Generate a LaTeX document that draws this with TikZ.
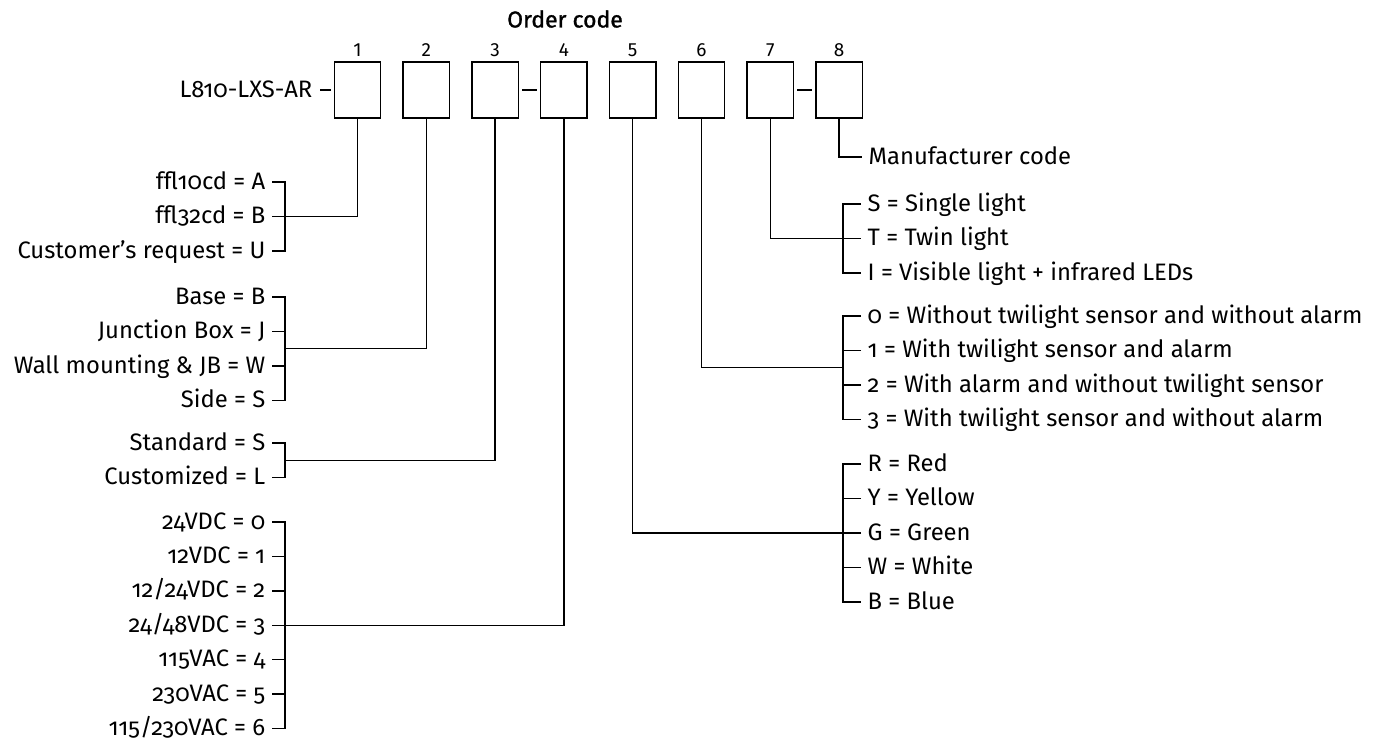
\documentclass[tikz,border=0pt]{standalone}
\usepackage{fontspec}
\setmainfont{Fira Sans}[Numbers=OldStyle]
\newfontfamily\digitfont{Fira Sans}[Numbers=Lining]
\newfontfamily\headfont{Fira Sans}[FakeBold=1.2]
\usetikzlibrary{positioning,calc}

\begin{document}
\begin{tikzpicture}[x=1pt,y=-1pt,font=\fontsize{23.8}{28}\selectfont,line width=1.4pt,
              slot/.style={draw,minimum width=46.5pt,minimum height=56pt,inner sep=0},
              lopt/.style={anchor=base east,inner sep=0,yshift=-7pt},
              ropt/.style={anchor=base west,inner sep=0,yshift=-7pt},
              idx/.style={inner sep=0,font=\digitfont\fontsize{19}{22}\selectfont}]
              \useasboundingbox (0,0) rectangle (1384,742);
              % code slots
              \node[font=\headfont\fontsize{23}{27}\selectfont] (title) at (565,19) {Order code};
              \foreach \i in {1,...,8}
                \node[slot] (b\i) at ({357.5+68.8*(\i-1)},90) {};
              \foreach \i in {1,...,8}
                \node[idx,above=4pt of b\i] (n\i) {\i};
              \node[lopt] (pre) at (313,90) {L810-LXS-AR};
              \draw ([shift={(7pt,7pt)}]pre.base east) -- ([xshift=-3pt]b1.west);
              \draw ([xshift=3pt]b3.east) -- ([xshift=-3pt]b4.west);
              \draw ([xshift=3pt]b7.east) -- ([xshift=-3pt]b8.west);
              % left options
              \foreach \t [count=\i] in {ffl10cd = A,ffl32cd = B,Customer’s request = U}
                \node[lopt] (g1-\i) at (266,{182+34.5*(\i-1)}) {\t};
              \foreach \t [count=\i] in {Base = B,Junction Box = J,Wall mounting \& JB = W,Side = S}
                \node[lopt] (g2-\i) at (266,{297+34.5*(\i-1)}) {\t};
              \foreach \t [count=\i] in {Standard = S,Customized = L}
                \node[lopt] (g3-\i) at (266,{443+34.5*(\i-1)}) {\t};
              \foreach \t [count=\i] in {24VDC = 0,12VDC = 1,12/24VDC = 2,24/48VDC = 3,115VAC = 4,230VAC = 5,115/230VAC = 6}
                \node[lopt] (g4-\i) at (266,{522+34.4*(\i-1)}) {\t};
              \draw ([shift={(6pt,7pt)}]g1-1.base east) -- ++(13,0) |- ([shift={(6pt,7pt)}]g1-3.base east);
              \draw ([shift={(6pt,7pt)}]g2-1.base east) -- ++(13,0) |- ([shift={(6pt,7pt)}]g2-4.base east);
              \draw ([shift={(6pt,7pt)}]g3-1.base east) -- ++(13,0) |- ([shift={(6pt,7pt)}]g3-2.base east);
              \draw ([shift={(6pt,7pt)}]g4-1.base east) -- ++(13,0) |- ([shift={(6pt,7pt)}]g4-7.base east);
              \foreach \i in {2,3}
                \draw ([shift={(6pt,7pt)}]g2-\i.base east) -- ++(13,0);
              \foreach \i in {2,...,6}
                \draw ([shift={(6pt,7pt)}]g4-\i.base east) -- ++(13,0);
              \draw (b1.south) |- ([shift={(6pt,7pt)}]g1-2.base east);
              \draw (b2.south) |- ($([shift={(19pt,7pt)}]g2-2.base east)!0.5!([shift={(19pt,7pt)}]g2-3.base east)$);
              \draw (b3.south) |- ($([shift={(19pt,7pt)}]g3-1.base east)!0.5!([shift={(19pt,7pt)}]g3-2.base east)$);
              \draw (b4.south) |- ([shift={(6pt,7pt)}]g4-4.base east);
              % right options
              \node[ropt] (mc) at (868,157) {Manufacturer code};
              \foreach \t [count=\i] in {S = Single light,T = Twin light,I = Visible light + infrared LEDs}
                \node[ropt] (r7-\i) at (867,{204+34.5*(\i-1)}) {\t};
              \foreach \t [count=\i] in {0 = Without twilight sensor and without alarm,1 = With twilight sensor and alarm,2 = With alarm and without twilight sensor,3 = With twilight sensor and without alarm}
                \node[ropt] (r6-\i) at (867,{316+34.5*(\i-1)}) {\t};
              \foreach \t [count=\i] in {R = Red,Y = Yellow,G = Green,W = White,B = Blue}
                \node[ropt] (r5-\i) at (867,{464+34.5*(\i-1)}) {\t};
              \draw ([shift={(-6pt,7pt)}]r7-1.base west) -- ++(-18,0) |- ([shift={(-6pt,7pt)}]r7-3.base west);
              \draw ([shift={(-6pt,7pt)}]r6-1.base west) -- ++(-18,0) |- ([shift={(-6pt,7pt)}]r6-4.base west);
              \draw ([shift={(-6pt,7pt)}]r5-1.base west) -- ++(-18,0) |- ([shift={(-6pt,7pt)}]r5-5.base west);
              \foreach \i in {2,3}
                \draw ([shift={(-6pt,7pt)}]r6-\i.base west) -- ++(-18,0);
              \foreach \i in {2,3,4}
                \draw ([shift={(-6pt,7pt)}]r5-\i.base west) -- ++(-18,0);
              \draw (b8.south) |- ([shift={(-6pt,7pt)}]mc.base west);
              \draw (b7.south) |- ([shift={(-6pt,7pt)}]r7-2.base west);
              \draw (b6.south) |- ($([shift={(-24pt,7pt)}]r6-2.base west)!0.5!([shift={(-24pt,7pt)}]r6-3.base west)$);
              \draw (b5.south) |- ([shift={(-6pt,7pt)}]r5-3.base west);
            \end{tikzpicture}
\end{document}
